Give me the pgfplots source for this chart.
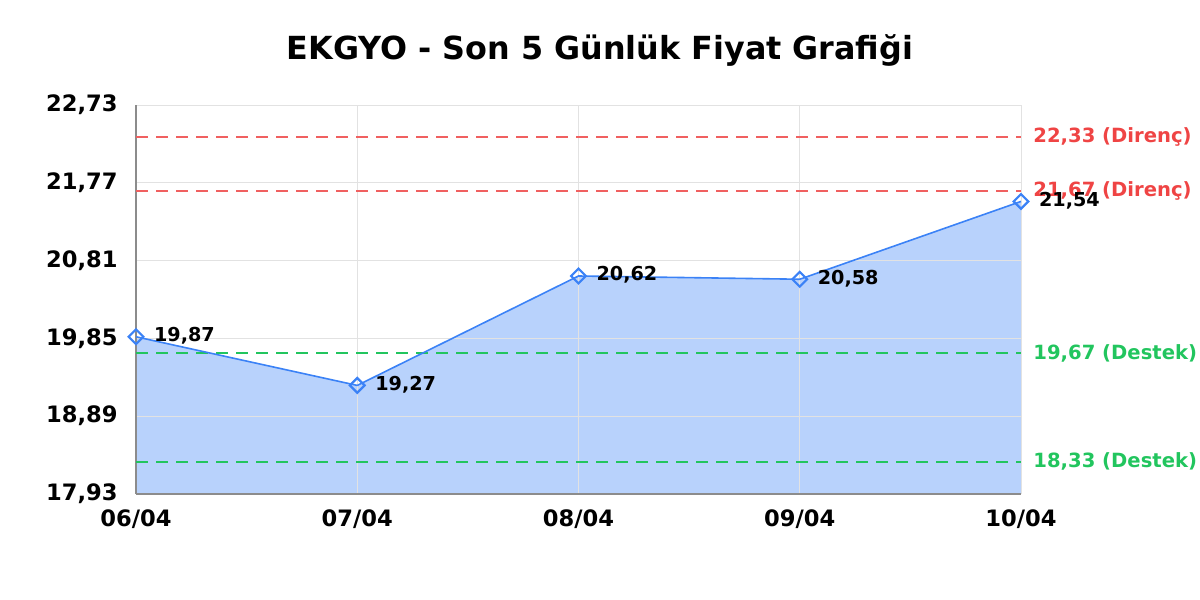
\documentclass[border=0pt]{standalone}
\usepackage{fontspec}
\setmainfont{DejaVu Sans}
\usepackage{pgfplots}
\usepackage{pgfplotstable}
\pgfplotsset{compat=1.18}
\pgfplotsset{
  layers/areafirst/.define layer set={
    axis background,axis grid,pre main,axis ticks,axis lines,
    axis tick labels,main,axis descriptions,axis foreground}{},
}

\definecolor{lineblue}{HTML}{3B82F6}
\definecolor{resred}{HTML}{EF4444}
\definecolor{reslinered}{RGB}{240,96,96}
\definecolor{supgreen}{HTML}{22C55E}
\definecolor{gridgray}{RGB}{226,226,226}
\definecolor{axisgray}{HTML}{8C8C8C}

\pgfplotstableread{
x y lbl
0 19.87 19,87
1 19.27 19,27
2 20.62 20,62
3 20.58 20,58
4 21.54 21,54
}\pricedata

\begin{document}
\begin{tikzpicture}
\path (0,0) rectangle (600pt,300pt);
\begin{axis}[
  set layers=areafirst,
  at={(68pt,53pt)}, anchor=south west,
  scale only axis, width=442.5pt, height=194.5pt,
  xmin=0, xmax=4, ymin=17.93, ymax=22.73,
  xtick={0,1,2,3,4},
  xticklabels={06/04,07/04,08/04,09/04,10/04},
  ytick={17.93,18.89,19.85,20.81,21.77,22.73},
  yticklabels={{17,93},{18,89},{19,85},{20,81},{21,77},{22,73}},
  major tick length=0pt,
  axis x line*=bottom, axis y line*=left,
  axis line style={draw=axisgray, line width=0.7pt},
  grid=major,
  major grid style={draw=gridgray, line width=0.5pt},
  tick label style={font=\fontsize{11.3}{13}\selectfont\bfseries, text=black},
  yticklabel style={anchor=east, inner sep=0pt, xshift=-9pt},
  xticklabel style={anchor=north, inner sep=0pt, yshift=-7.5pt},
  clip=false,
]
% filled area under the price line
\addplot[on layer=pre main, draw=none, fill=lineblue, fill opacity=0.36] coordinates {
  (0,17.93) (0,19.87) (1,19.27) (2,20.62) (3,20.58) (4,21.54) (4,17.93)} -- cycle;

% resistance and support levels
\addplot[draw=reslinered, line width=1pt, dash pattern=on 6pt off 4pt]
  coordinates {(0,22.33) (4,22.33)};
\addplot[draw=reslinered, line width=1pt, dash pattern=on 6pt off 4pt]
  coordinates {(0,21.67) (4,21.67)};
\addplot[draw=supgreen, line width=1pt, dash pattern=on 6pt off 4pt]
  coordinates {(0,19.67) (4,19.67)};
\addplot[draw=supgreen, line width=1pt, dash pattern=on 6pt off 4pt]
  coordinates {(0,18.33) (4,18.33)};

% price line
\addplot[lineblue, line width=0.8pt, mark=square,
  mark size=2.6pt,
  mark options={rotate=45, fill=white, draw=lineblue, line width=1.1pt, solid},
  point meta=explicit symbolic,
  nodes near coords,
  nodes near coords style={anchor=west, inner sep=0pt, xshift=8.5pt, yshift=0.5pt,
    font=\fontsize{9.6}{11}\selectfont\bfseries, text=black},
] table[x=x, y=y, meta=lbl] {\pricedata};

\begin{scope}[font=\fontsize{9.8}{11}\selectfont\bfseries, inner sep=0pt]
\node[anchor=west, xshift=6pt, text=resred] at (axis cs:4,22.33) {22,33 (Direnç)};
\node[anchor=west, xshift=6pt, text=resred] at (axis cs:4,21.67) {21,67 (Direnç)};
\node[anchor=west, xshift=6pt, text=supgreen] at (axis cs:4,19.67) {19,67 (Destek)};
\node[anchor=west, xshift=6pt, text=supgreen] at (axis cs:4,18.33) {18,33 (Destek)};
\end{scope}
\end{axis}
\node[anchor=base, font=\fontsize{15.9}{18}\selectfont\bfseries] at (300pt,270pt)
  {EKGYO - Son 5 Günlük Fiyat Grafiği};
\end{tikzpicture}
\end{document}
